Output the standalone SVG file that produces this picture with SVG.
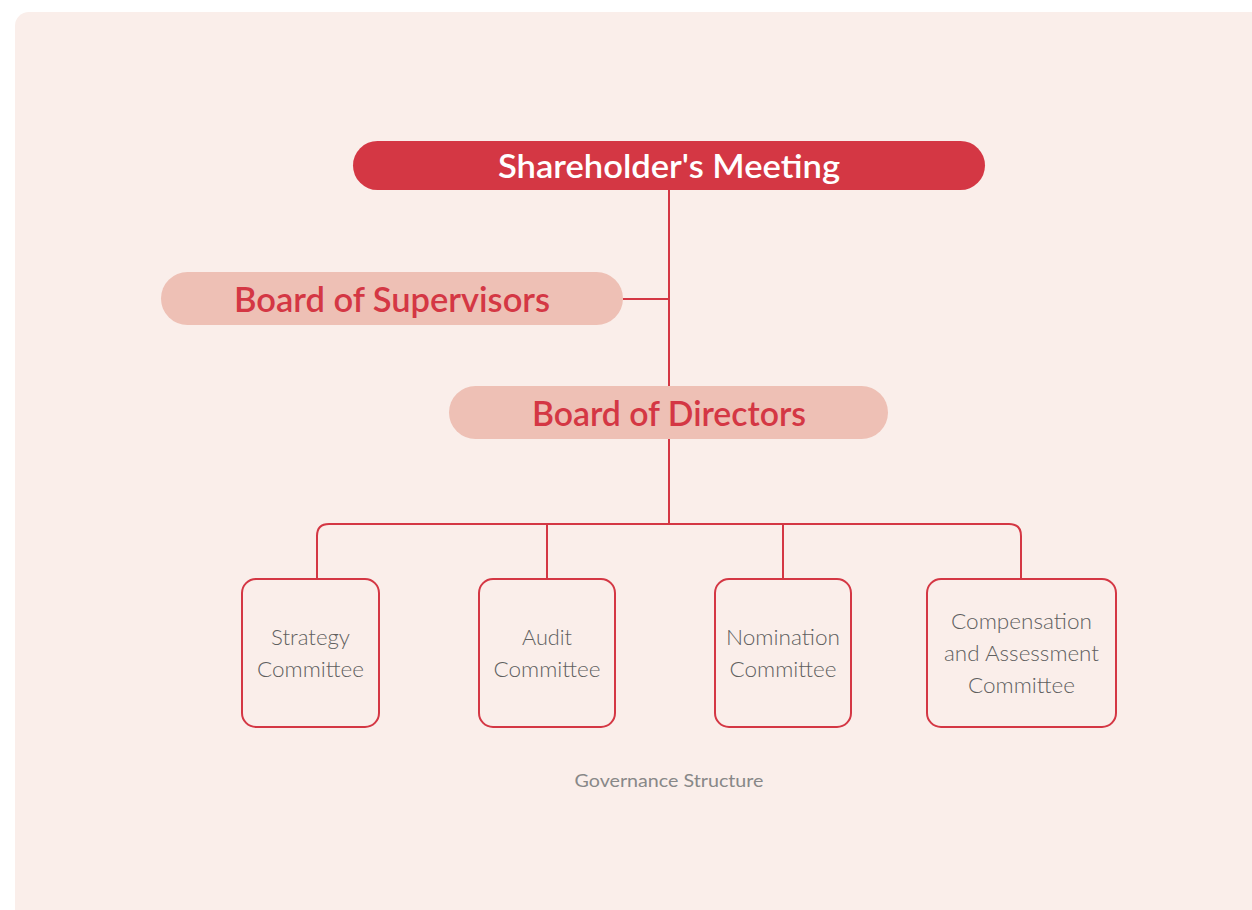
<svg xmlns="http://www.w3.org/2000/svg" width="1252" height="910" viewBox="0 0 1252 910">
<style>
.big{font-family:Lato,"Noto Sans","Liberation Sans",sans-serif;font-weight:600;text-anchor:middle}
.sm{font-family:Lato,"Noto Sans","Liberation Sans",sans-serif;font-weight:300;font-size:21px;fill:#5f5f5f;text-anchor:middle}
.box{fill:none;stroke:#D43744;stroke-width:2}
.conn{fill:none;stroke:#D43744;stroke-width:2}
.pill{fill:#EEC0B5}
</style>
<rect x="15" y="12" width="1260" height="920" rx="14" fill="#FAEEEA"/>
<g id="connectors">
<path class="conn" d="M669 190 V386 M623 299 H669 M669 439 V524"/>
<path class="conn" d="M317 579 V536 Q317 524 329 524 H1009 Q1021 524 1021 536 V579"/>
<path class="conn" d="M547 524 V579 M783 524 V579"/>
</g>
<g id="shareholders">
<rect x="353" y="141" width="632" height="49" rx="24.5" fill="#D43744"/>
<text class="big" x="669" y="178" font-size="33" fill="#fff" textLength="342" lengthAdjust="spacingAndGlyphs">Shareholder's Meeting</text>
</g>
<g id="supervisors">
<rect class="pill" x="161" y="272" width="462" height="53" rx="26.5"/>
<text class="big" x="392" y="312" font-size="34" fill="#D43744" textLength="316" lengthAdjust="spacingAndGlyphs">Board of Supervisors</text>
</g>
<g id="directors">
<rect class="pill" x="449" y="386" width="439" height="53" rx="26.5"/>
<text class="big" x="669" y="426" font-size="34" fill="#D43744" textLength="274" lengthAdjust="spacingAndGlyphs">Board of Directors</text>
</g>
<g id="strategy">
<rect class="box" x="242" y="579" width="137" height="148" rx="14"/>
<text class="sm" x="310.5" y="645" textLength="79" lengthAdjust="spacingAndGlyphs">Strategy</text>
<text class="sm" x="310.5" y="677" textLength="107" lengthAdjust="spacingAndGlyphs">Committee</text>
</g>
<g id="audit">
<rect class="box" x="479" y="579" width="136" height="148" rx="14"/>
<text class="sm" x="547" y="645" textLength="50" lengthAdjust="spacingAndGlyphs">Audit</text>
<text class="sm" x="547" y="677" textLength="107" lengthAdjust="spacingAndGlyphs">Committee</text>
</g>
<g id="nomination">
<rect class="box" x="715" y="579" width="136" height="148" rx="14"/>
<text class="sm" x="783" y="645" textLength="114" lengthAdjust="spacingAndGlyphs">Nomination</text>
<text class="sm" x="783" y="677" textLength="107" lengthAdjust="spacingAndGlyphs">Committee</text>
</g>
<g id="compensation">
<rect class="box" x="927" y="579" width="189" height="148" rx="14"/>
<text class="sm" x="1021.5" y="629" textLength="141" lengthAdjust="spacingAndGlyphs">Compensation</text>
<text class="sm" x="1021.5" y="661" textLength="155" lengthAdjust="spacingAndGlyphs">and Assessment</text>
<text class="sm" x="1021.5" y="693" textLength="107" lengthAdjust="spacingAndGlyphs">Committee</text>
</g>
<g id="caption">
<text x="669" y="787" font-family="Lato,'Noto Sans','Liberation Sans',sans-serif" font-size="17" fill="#888" text-anchor="middle" textLength="189" lengthAdjust="spacingAndGlyphs">Governance Structure</text>
</g>
</svg>
